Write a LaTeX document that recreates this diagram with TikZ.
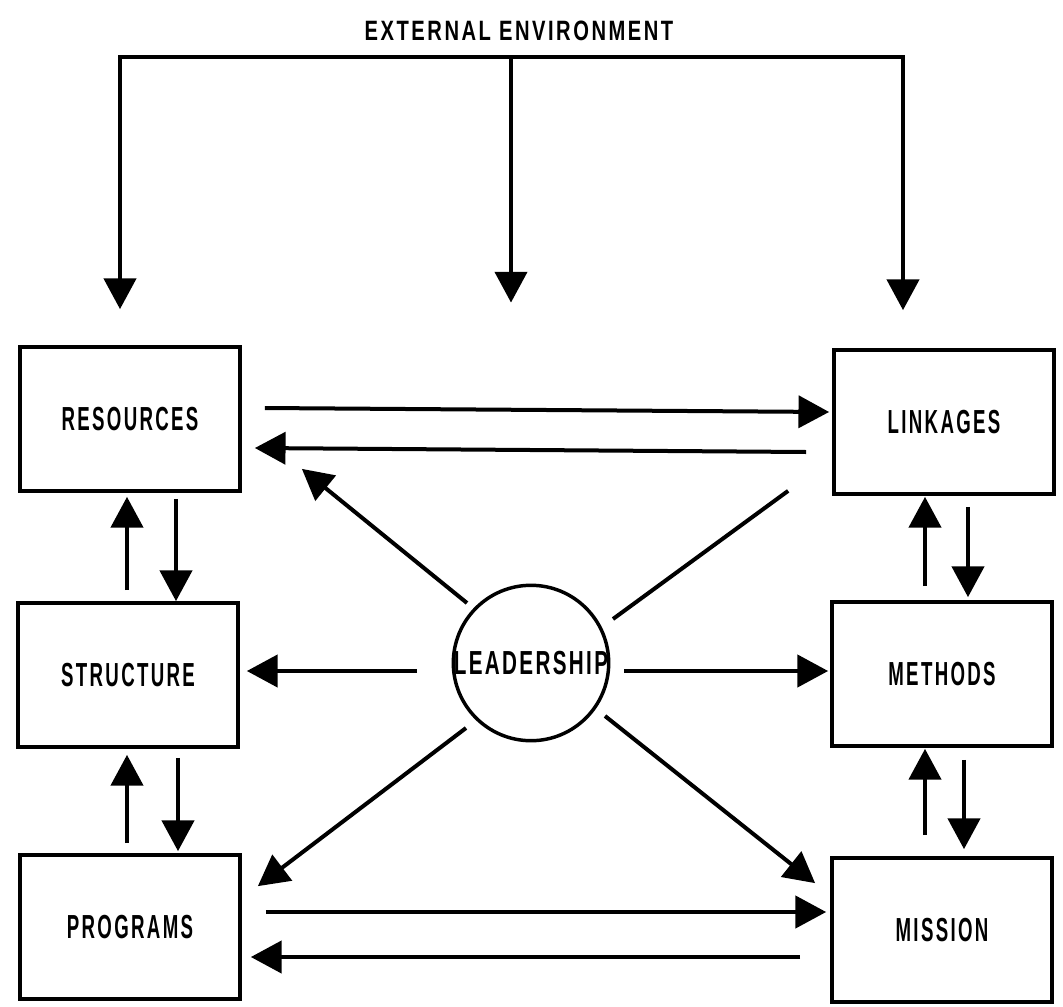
\documentclass[tikz,border=0pt]{standalone}
\usepackage{xcolor}
\usepackage{fontspec}
\newfontfamily\boxfont{Liberation Sans}[FakeStretch=0.56,LetterSpace=7]
\newfontfamily\leadfont{Liberation Sans}[FakeStretch=0.62,LetterSpace=7]
\newfontfamily\envfont{Liberation Sans}[FakeStretch=0.72,LetterSpace=9]
\usepackage{tikz}
\usetikzlibrary{arrows.meta, calc}

\begin{document}
\begin{tikzpicture}[
  x=0.75pt, y=-0.75pt,
  >={Triangle[length=23pt,width=24pt]},
  box/.style={draw, line width=2.8pt, minimum width=165pt, minimum height=108pt, font=\boxfont\bfseries\fontsize{25}{28}\selectfont},
  arr/.style={->, line width=3pt},
  line/.style={line width=3pt}
]
\useasboundingbox (0,0) rectangle (1063,1006);

\node (env) [font=\envfont\bfseries\fontsize{21}{24}\selectfont] at (519,31) {EXTERNAL ENVIRONMENT};
\coordinate (tl) at (120,57);
\coordinate (tm) at (511,57);
\coordinate (tr) at (903,57);

\node (res) [box] at (130,419) {RESOURCES};
\node (lnk) [box] at (944,422) {LINKAGES};
\node (str) [box] at (128,675) {STRUCTURE};
\node (met) [box] at (942,674) {METHODS};
\node (prg) [box] at (130,927) {PROGRAMS};
\node (mis) [box] at (942,930) {MISSION};
\node (lead) [draw, circle, line width=2.6pt, inner sep=0pt, minimum size=111pt,
  font=\leadfont\bfseries\fontsize{25}{28}\selectfont] at (531,663) {LEADERSHIP};

% environment
\draw[arr] (tm) -- (tl) -- ($(res.north)+(-10,-36)$);
\draw[arr] (tm) -- (tr) -- ($(lnk.north)+(-41,-38)$);
\draw[arr] (tm) -- ($(lead.north)+(-20,-281)$);

% across
\draw[arr] ($(res.east)+(23,-11)$) -- ($(lnk.west)+(-3,-10)$);
\draw[arr] ($(lnk.west)+(-26,30)$) -- ($(res.east)+(13,29)$);
\draw[arr] ($(prg.east)+(24,-15)$) -- ($(mis.west)+(-4,-18)$);
\draw[arr] ($(mis.west)+(-30,27)$) -- ($(prg.east)+(9,30)$);

% left column
\draw[arr] ($(res.south)+(46,6)$) -- ($(str.north)+(48,0)$);
\draw[arr] ($(str.north)+(-1,-11)$) -- ($(res.south)+(-3,4)$);
\draw[arr] ($(str.south)+(50,9)$) -- ($(prg.north)+(48,-2)$);
\draw[arr] ($(prg.north)+(-3,-10)$) -- ($(str.south)+(-1,6)$);

% right column
\draw[arr] ($(met.north)+(-17,-14)$) -- ($(lnk.south)+(-19,1)$);
\draw[arr] ($(lnk.south)+(24,11)$) -- ($(met.north)+(26,-3)$);
\draw[arr] ($(mis.north)+(-17,-21)$) -- ($(met.south)+(-17,1)$);
\draw[arr] ($(met.south)+(22,12)$) -- ($(mis.north)+(22,-7)$);

% leadership
\draw[arr] ($(lead.center)+(-64,-60)$) -- ($(res.south east)+(60,-24)$);
\draw[line] ($(lead.center)+(82,-44)$) -- ($(lnk.south west)+(-44,-5)$);
\draw[arr] ($(lead.center)+(-114,8)$) -- ($(str.east)+(7,-4)$);
\draw[arr] ($(lead.center)+(93,8)$) -- ($(met.west)+(-2,-3)$);
\draw[arr] ($(lead.center)+(-65,65)$) -- ($(prg.north east)+(16,33)$);
\draw[arr] ($(lead.center)+(74,53)$) -- ($(mis.north west)+(-15,27)$);
\end{tikzpicture}
\end{document}
